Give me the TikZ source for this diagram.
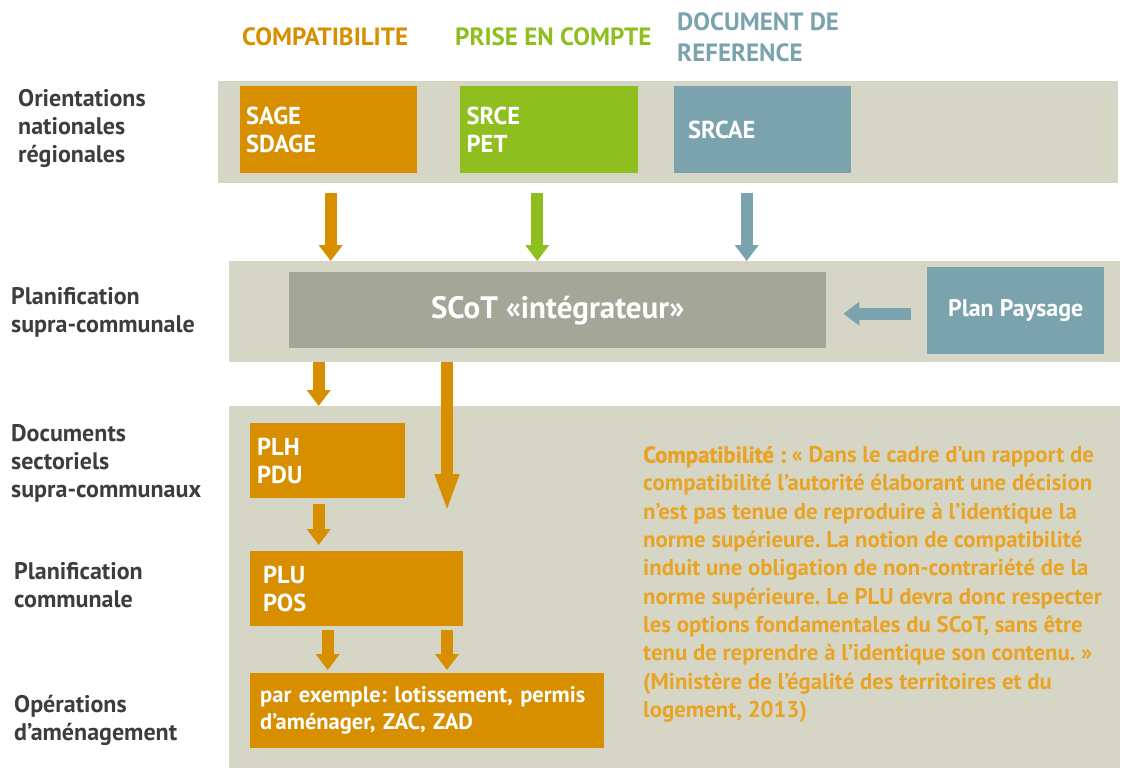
\documentclass[tikz,border=0pt]{standalone}
\usepackage{fontspec}
\setmainfont{PT Sans}
\newfontfamily\heavyfont{PT Sans}[BoldFeatures={FakeBold=1.6}]
\usetikzlibrary{arrows.meta}

\definecolor{panelgray}{HTML}{D5D6C6}
\definecolor{compat}{HTML}{D78F00}
\definecolor{prise}{HTML}{8EBF1F}
\definecolor{refblue}{HTML}{7BA3AD}
\definecolor{scotgray}{HTML}{A4A698}
\definecolor{labelgray}{HTML}{3D3D3D}
\definecolor{quotecol}{HTML}{E9A325}

\begin{document}
\frenchspacing
\begin{tikzpicture}[x=1pt, y=-1pt,
    panel/.style={rectangle, fill=panelgray, anchor=north west, inner sep=0pt},
    docbox/.style={rectangle, anchor=north west, inner sep=0pt, align=left, text=white,
        font=\bfseries\fontsize{24.5}{28}\selectfont},
    rowlabel/.style={anchor=west, align=left, text=labelgray, inner sep=0pt,
        font=\bfseries\fontsize{24}{28}\selectfont},
    head/.style={anchor=west, align=left, inner sep=0pt,
        font=\bfseries\fontsize{25}{31}\selectfont},
    blockarrow/.style={line width=12pt, -{Triangle[width=23pt,length=16pt]}}]

    \useasboundingbox (0,0) rectangle (1122,769);

    % bands
    \node[panel, minimum width=900, minimum height=102] (orient) at (218,81) {};
    \node[panel, minimum width=891, minimum height=101] (supra) at (229,261) {};
    \node[panel, minimum width=891, minimum height=362] (commun) at (229,406) {};

    % column heads
    \node[head, text=compat] (hcompat) at (242,37) {COMPATIBILITE};
    \node[head, text=prise] (hprise) at (455,37) {PRISE EN COMPTE};
    \node[head, text=refblue] (hrefer) at (677,37) {DOCUMENT DE\\REFERENCE};

    % row labels
    \node[rowlabel] (lorient) at (18,128) {Orientations\\nationales\\régionales};
    \node[rowlabel] (lsupra) at (11,312) {Planification\\supra-communale};
    \node[rowlabel] (lsecto) at (11,463) {Documents\\sectoriels\\supra-communaux};
    \node[rowlabel] (lcommun) at (14,585) {Planification\\communale};
    \node[rowlabel] (loper) at (14,720) {Opérations\\d’aménagement};

    % documents
    \node[docbox, fill=compat, minimum width=177, minimum height=87, text width=165] (sage) at (240,86) {SAGE\\SDAGE};
    \node[docbox, fill=prise, minimum width=178, minimum height=87, text width=165] (srce) at (460,86) {SRCE\\PET};
    \node[docbox, fill=refblue, minimum width=177, minimum height=87, text width=149] (srcae) at (674,86) {SRCAE};
    \node[docbox, fill=scotgray, minimum width=537, minimum height=76, align=center,
        font=\bfseries\fontsize{31}{34}\selectfont] (scot) at (289,272) {SCoT «intégrateur»};
    \node[docbox, fill=refblue, minimum width=177, minimum height=87, align=center,
        font=\bfseries\fontsize{24}{28}\selectfont] (paysage) at (927,267) {Plan Paysage};
    \node[docbox, fill=compat, minimum width=155, minimum height=75, text width=141] (plh) at (250,423) {PLH\\PDU};
    \node[docbox, fill=compat, minimum width=213, minimum height=75, text width=187] (plu) at (250,551) {PLU\\POS};
    \node[docbox, fill=compat, minimum width=354, minimum height=75, text width=334,
        font=\bfseries\fontsize{22.5}{27}\selectfont] (operation) at (250,673) {\mbox{par exemple: lotissement, permis}\\d’aménager, ZAC, ZAD};

    % citation
    \node[anchor=north west, align=left, inner sep=0pt, text=quotecol,
        font=\bfseries\fontsize{22.8}{28.3}\selectfont] (citation) at (643,446) {%
        {\heavyfont\bfseries Compatibilité :} « Dans le cadre d’un rapport de\\
        compatibilité l’autorité élaborant une décision\\
        n’est pas tenue de reproduire à l’identique la\\
        norme supérieure. La notion de compatibilité\\
        induit une obligation de non-contrariété de la\\
        norme supérieure. Le PLU devra donc respecter\\
        les options fondamentales du SCoT, sans être\\
        tenu de reprendre à l’identique son contenu. »\\
        (Ministère de l’égalité des territoires et du\\
        logement, 2013)};

    % arrows
    \draw[blockarrow, compat, shorten <=10pt] ([xshift=2pt]sage.south |- orient.south) -- ([xshift=2pt]sage.south |- supra.north);
    \draw[blockarrow, prise, shorten <=10pt] ([xshift=-12pt]srce.south |- orient.south) -- ([xshift=-12pt]srce.south |- supra.north);
    \draw[blockarrow, refblue, shorten <=10pt] ([xshift=-16pt]srcae.south |- orient.south) -- ([xshift=-16pt]srcae.south |- supra.north);
    \draw[blockarrow, refblue, shorten <=16pt, shorten >=17pt] ([yshift=-3pt]paysage.west) -- ([yshift=-3pt]paysage.west -| scot.east);
    \draw[blockarrow, compat] ([xshift=-9pt]plh.north |- supra.south) -- ([xshift=-9pt]plh.north |- commun.north);
    \coordinate (scotend) at (447,512);
    \draw[compat, line width=12pt, -{Triangle[width=22pt,length=38pt]}] (scotend |- supra.south) -- (scotend);
    \draw[blockarrow, compat, shorten <=6pt, shorten >=6pt] ([xshift=-9pt]plh.south) -- ([xshift=-9pt]plh.south |- plu.north);
    \draw[blockarrow, compat, shorten <=4pt, shorten >=3pt] (plu.south -| plh.south) -- (plh.south |- operation.north);
    \draw[blockarrow, compat, shorten <=4pt, shorten >=3pt] (plu.south -| scotend) -- (scotend |- operation.north);

\end{tikzpicture}
\end{document}
